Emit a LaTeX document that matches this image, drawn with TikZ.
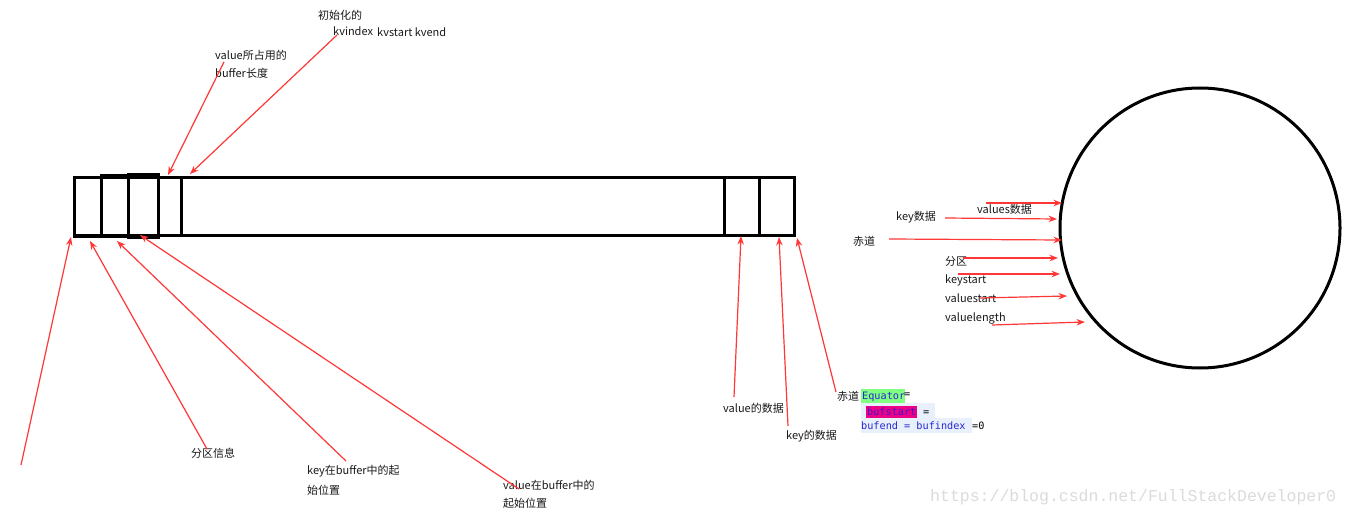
\documentclass[tikz,border=0pt]{standalone}
\usepackage{fontspec}
\setmainfont{Noto Sans CJK SC}
\newfontfamily\codefont{DejaVu Sans Mono}
\newfontfamily\wmfont{Liberation Mono}
\usetikzlibrary{arrows.meta}
\definecolor{arrowred}{RGB}{255,55,55}
\definecolor{codeblue}{RGB}{40,40,210}
\definecolor{codepurple}{RGB}{70,20,200}
\definecolor{codebg}{RGB}{232,240,252}
\definecolor{hlgreen}{RGB}{128,255,128}
\definecolor{hlmag}{RGB}{235,0,135}
\definecolor{labeltext}{RGB}{25,25,25}
\begin{document}
\begin{tikzpicture}[x=1pt,y=-1pt,
  lbl/.style={anchor=west,inner sep=0pt,font=\fontsize{11}{12}\selectfont,text=labeltext},
  redarrow/.style={draw=arrowred,line width=1.2pt,-{Stealth[length=8.5pt,width=6.5pt]}},
  boxline/.style={draw=black,line width=3pt},
  code/.style={anchor=west,inner sep=0pt,font=\codefont\fontsize{10.2}{12}\selectfont}]
\useasboundingbox[fill=white] (0,0) rectangle (1352,516);

% buffer
\draw[boxline] (74,177) rectangle (794,235);
\draw[boxline] (74,177) rectangle (101,236);
\draw[boxline] (101,175) rectangle (128,236);
\draw[boxline] (128,174) rectangle (158,237);
\draw[boxline] (158,177) rectangle (181,235);
\draw[boxline] (724,177) rectangle (759,235);

% ring
\node[draw=black,line width=3pt,circle,minimum size=280pt,inner sep=0pt] (ring) at (1200,228) {};

% top labels
\node[lbl] (init) at (318,15) {初始化的};
\node[lbl] (kvindex) at (333,31) {kvindex};
\node[lbl] (kvstart) at (377,32) {kvstart kvend};
\node[lbl] (vlen1) at (215,55) {value所占用的};
\node[lbl] (vlen2) at (215,73) {buffer长度};

% bottom labels
\node[lbl] (part) at (191,453) {分区信息};
\node[lbl] (kpos1) at (307,471) {key在buffer中的起};
\node[lbl] (kpos2) at (307,490) {始位置};
\node[lbl] (vpos1) at (503,485) {value在buffer中的};
\node[lbl] (vpos2) at (503,503) {起始位置};
\node[lbl] (vdata) at (723,408) {value的数据};
\node[lbl] (kdata) at (786,436) {key的数据};
\node[lbl] (equ) at (837,396) {赤道};

% code snippet
\fill[codebg] (861,403) rectangle (935,418);
\fill[codebg] (861,418) rectangle (972,433);
\fill[hlgreen] (861,389) rectangle (905,403);
\fill[hlmag] (866,406) rectangle (917,418);
\node[code,text=codeblue] (c1) at (862,397) {Equator};
\node[code] (c1eq) at (904,395) {=};
\node[code,text=codepurple] (c2) at (867,412) {bufstart};
\node[code] (c2eq) at (923,413) {=};
\node[code,text=codeblue] (c3) at (861,426) {bufend = bufindex};
\node[code] (c3eq) at (972,426) {=0};

% ring labels
\node[lbl] (valdata) at (977,209) {values数据};
\node[lbl] (keydata) at (896,217) {key数据};
\node[lbl] (equ2) at (853,241) {赤道};
\node[lbl] (part2) at (945,261) {分区};
\node[lbl] (kst) at (945,280) {keystart};
\node[lbl] (vst) at (945,298) {valuestart};
\node[lbl] (vlg) at (945,318) {valuelength};

% coordinates
\coordinate (s1) at (21,465);  \coordinate (t1) at (71,237);
\coordinate (s2) at (207,449); \coordinate (t2) at (90,241);
\coordinate (s3) at (346,461); \coordinate (t3) at (117,241);
\coordinate (s4) at (519,489); \coordinate (t4) at (140,235);
\coordinate (s5) at (224,62);  \coordinate (t5) at (168,175);
\coordinate (s6) at (337,35);  \coordinate (t6) at (190,174);
\coordinate (s7) at (734,397); \coordinate (t7) at (741,236);
\coordinate (s8) at (788,426); \coordinate (t8) at (779,237);
\coordinate (s9) at (836,392); \coordinate (t9) at (797,238);
\coordinate (r1s) at (986,203); \coordinate (r1t) at (1062,203);
\coordinate (r2s) at (945,218); \coordinate (r2t) at (1057,219);
\coordinate (r3s) at (889,239); \coordinate (r3t) at (1062,240);
\coordinate (r4s) at (963,258); \coordinate (r4t) at (1058,258);
\coordinate (r5s) at (958,274); \coordinate (r5t) at (1060,274);
\coordinate (r6s) at (980,298); \coordinate (r6t) at (1067,296);
\coordinate (r7s) at (992,325); \coordinate (r7t) at (1085,322);

\foreach \a in {1,...,9} {\draw[redarrow] (s\a) -- (t\a);}
\foreach \a in {1,...,7} {\draw[redarrow] (r\a s) -- (r\a t);}

% watermark
\node[anchor=west,inner sep=0pt,font=\wmfont\fontsize{16.5}{18}\selectfont,text=black!14] (wm) at (930,497) {https://blog.csdn.net/FullStackDeveloper0};
\end{tikzpicture}
\end{document}
